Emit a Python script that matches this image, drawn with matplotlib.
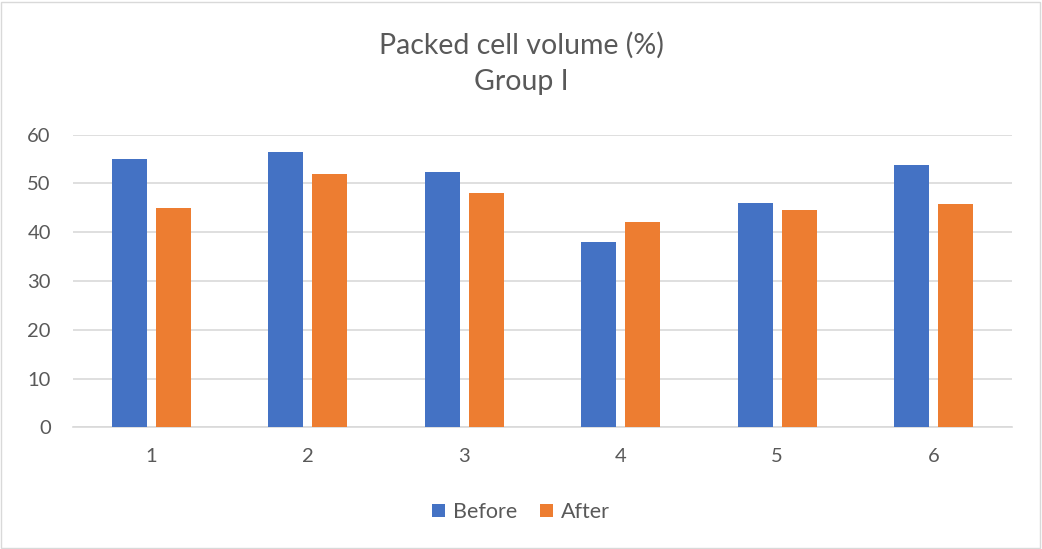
import matplotlib
matplotlib.use("Agg")
import matplotlib.pyplot as plt
from matplotlib.patches import Rectangle
import numpy as np

plt.rcParams['font.family'] = ['Lato', 'DejaVu Sans']

animals = ["1", "2", "3", "4", "5", "6"]
before = [55.0, 56.4, 52.3, 37.9, 46.0, 53.8]
after = [45.0, 52.0, 48.0, 42.0, 44.6, 45.8]

BLUE = "#4472c4"
ORANGE = "#ed7d31"
TEXT = "#595959"
GRID = "#d9d9d9"

fig = plt.figure(figsize=(10.42, 5.49), dpi=100)
ax = fig.add_axes([0.0701, 0.2217, 0.9011, 0.5329])

x = np.arange(len(animals))
w = 0.224
off = 0.141
ax.bar(x - off, before, w, color=BLUE, label="Before", zorder=3)
ax.bar(x + off, after, w, color=ORANGE, label="After", zorder=3)

ax.set_xlim(-0.5, len(animals) - 0.5)
ax.set_ylim(0, 60)
ax.set_yticks(range(0, 61, 10))
ax.set_xticks(x)
ax.set_xticklabels(animals)
ax.yaxis.grid(True, color=GRID, linewidth=1.2, zorder=0)
for s in ["top", "right", "left"]:
    ax.spines[s].set_visible(False)
ax.spines["bottom"].set_color(GRID)
ax.spines["bottom"].set_linewidth(1.2)
ax.tick_params(axis="both", length=0, labelsize=14.5, colors=TEXT)
ax.tick_params(axis="x", pad=15)
ax.tick_params(axis="y", pad=16)

fig.text(0.5, 1 - 45 / 549, "Packed cell volume (%)", ha="center", va="center",
         fontsize=20.5, color=TEXT)
fig.text(0.5, 1 - 82 / 549, "Group I", ha="center", va="center",
         fontsize=20.5, color=TEXT)

fig.legend(loc="center", bbox_to_anchor=(0.5, 1 - 512 / 549), ncol=2, frameon=False,
           fontsize=15.5, labelcolor=TEXT, handlelength=0.6, handleheight=0.6,
           handletextpad=0.35, columnspacing=1.1)

fig.patches.append(Rectangle((0.001, 0.002), 0.997, 0.995, transform=fig.transFigure,
                             fill=False, edgecolor=GRID, linewidth=1))

fig.savefig("out.png", dpi=100)
